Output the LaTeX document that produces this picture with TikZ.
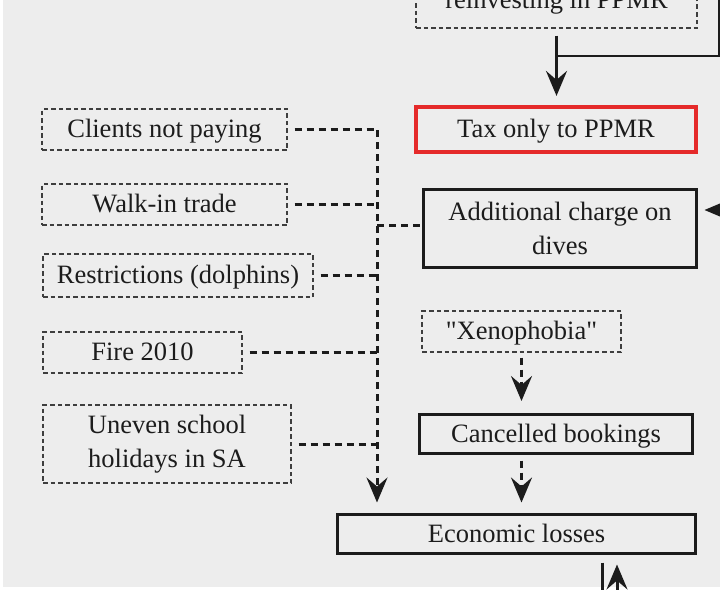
\documentclass[tikz,border=0pt]{standalone}
\usepackage{fontspec}
\setmainfont{Liberation Serif}[Ligatures=TeXOff]
\usetikzlibrary{arrows.meta}
\definecolor{bg}{HTML}{EDEDED}
\definecolor{ink}{HTML}{1C1C1C}
\definecolor{alert}{HTML}{E52A2A}
\tikzset{
  every node/.style={font=\fontsize{26.5}{34}\selectfont, text=ink, inner sep=0pt, align=center},
  oneline/.style={text height=20pt, text depth=4pt},
  solidbox/.style={draw=ink, line width=3pt, rectangle},
  dashbox/.style={draw=ink!85, line width=1.3pt, dash pattern=on 4.5pt off 3pt},
  redbox/.style={draw=alert, line width=4.2pt},
  link/.style={draw=ink, line width=3pt},
  dlink/.style={draw=ink, line width=3pt, dash pattern=on 7pt off 5pt},
  tip/.style={-{Stealth[length=25pt,width=21pt,inset=9pt]}},
}
\begin{document}
\begin{tikzpicture}[x=1pt,y=-1pt]
\useasboundingbox (0,0) rectangle (720,589);
\clip (0,0) rectangle (720,589);
\fill[bg] (3,0) rectangle (720,587);

% right-hand column
\node[dashbox, oneline, minimum width=281pt, minimum height=54pt] (reinv) at (556.5,1) {reinvesting in PPMR};
\node[redbox, oneline, minimum width=280pt, minimum height=45pt] (tax) at (556,129.5) {Tax only to PPMR};
\node[solidbox, minimum width=273pt, minimum height=78pt] (add) at (560,228.5) {Additional charge on\\dives};
\node[dashbox, oneline, minimum width=199pt, minimum height=41pt] (xeno) at (521.5,331.5) {"Xenophobia"};
\node[solidbox, oneline, minimum width=273pt, minimum height=39pt] (cancel) at (556,434) {Cancelled bookings};
\node[solidbox, oneline, minimum width=358pt, minimum height=39pt] (econ) at (516.5,534) {Economic losses};

% left-hand causes
\node[dashbox, oneline, minimum width=245pt, minimum height=41pt] (clients) at (164.5,129.5) {Clients not paying};
\node[dashbox, oneline, minimum width=245pt, minimum height=41pt] (walkin) at (164.5,204.5) {Walk-in trade};
\node[dashbox, oneline, minimum width=270pt, minimum height=43pt] (restr) at (178,275.5) {Restrictions (dolphins)};
\node[dashbox, oneline, minimum width=199pt, minimum height=41pt] (fire) at (142.5,352.5) {Fire 2010};
\node[dashbox, minimum width=248pt, minimum height=78pt] (uneven) at (167,444) {Uneven school\\holidays in SA};

% collecting trunk for the causes
\coordinate (trunk) at (377,130);
\draw[dlink, tip, shorten >=10.5pt] (trunk) -- (trunk |- econ.north);
\foreach \n in {clients,walkin,restr,fire,uneven}
  \draw[dlink] ([xshift=7pt]\n.east) -- (\n.east -| trunk);
\coordinate (stub) at ([yshift=3.5pt]add.west);
\draw[dlink] (stub -| trunk) -- (stub);

% middle chain
\draw[dlink, tip, shorten <=5pt, shorten >=12pt] (xeno.south) -- (xeno.south |- cancel.north);
\draw[dlink, tip, shorten <=5.5pt, shorten >=10.5pt] (xeno.south |- cancel.south) -- (xeno.south |- econ.north);

% top feed into the tax box
\draw[link, tip, shorten <=7pt, shorten >=9pt] (reinv.south) -- (reinv.south |- tax.north);
\coordinate (feedin) at (719,-10);
\coordinate (join) at (556.5,56);
\draw[link, line width=2.6pt] (feedin) |- (join);

% arrow entering from the right
\coordinate (rin) at (760,210);
\draw[link, tip, shorten >=6.5pt] (rin) -- (rin -| add.east);

% links leaving and entering below
\coordinate (bout) at (602,620);
\draw[link, shorten <=7.5pt] (bout |- econ.south) -- (bout);
\coordinate (bin) at (617,640);
\draw[link, tip, shorten >=9.5pt] (bin) -- (bin |- econ.south);
\end{tikzpicture}
\end{document}
